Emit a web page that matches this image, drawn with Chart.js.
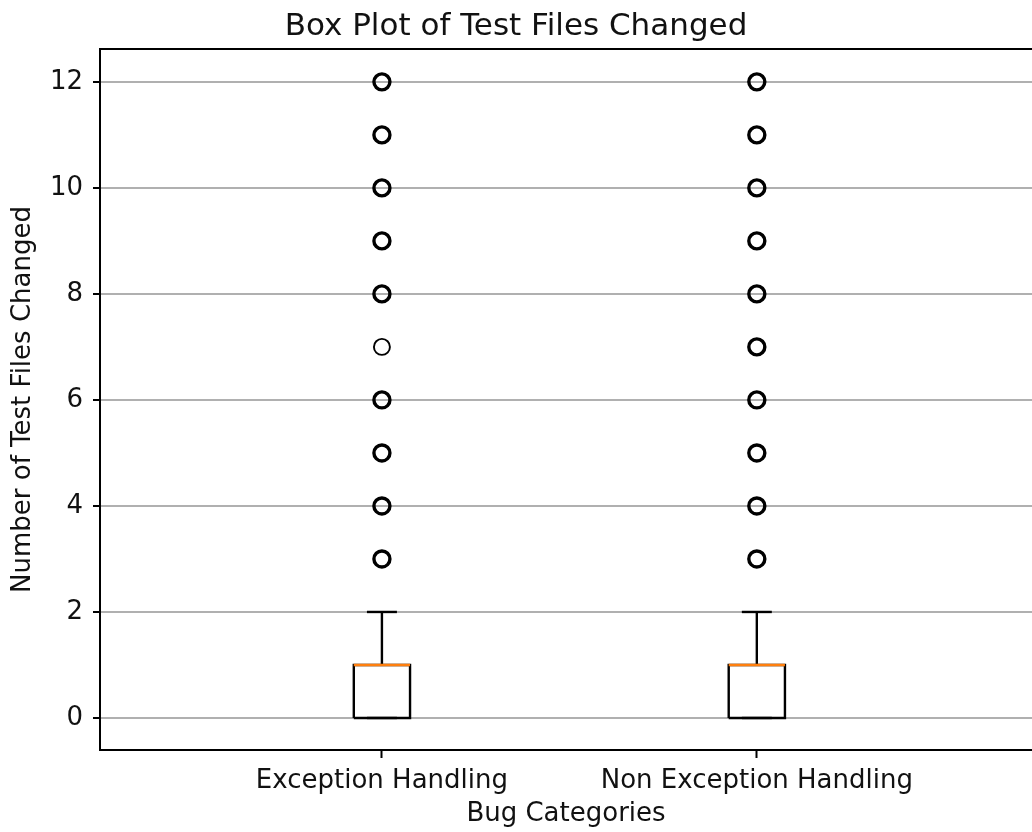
<!DOCTYPE html>
<html>
<head>
<meta charset="utf-8">
<script src="https://cdn.jsdelivr.net/npm/chart.js@4"></script>
<style>
  html, body { margin: 0; padding: 0; background: #fff; }
  #wrap { width: 1032px; height: 832px; }
</style>
</head>
<body>
<div id="wrap"><canvas id="c"></canvas></div>
<script>
// Bug categories along the x axis (box positions 1, 2, ...)
const categories = ['Exception Handling', 'Non Exception Handling'];

// Box statistics per category
const whiskerLow  = [0, 0];
const q1          = [0, 0];
const median      = [1, 1];
const q3          = [1, 1];
const whiskerHigh = [2, 2];

// Outliers per category, with how many observations sit on each value
const exceptionOutliers      = [3, 4, 5, 6, 7, 8, 9, 10, 11, 12];
const exceptionOutlierCounts = [2, 2, 2, 2, 1, 2, 2, 2, 2, 2];
const nonExceptionOutliers      = [3, 4, 5, 6, 7, 8, 9, 10, 11, 12];
const nonExceptionOutlierCounts = [2, 2, 2, 2, 2, 2, 2, 2, 2, 2];

const yTicks = [0, 2, 4, 6, 8, 10, 12];

const outliers = [exceptionOutliers, nonExceptionOutliers];
const outlierCounts = [exceptionOutlierCounts, nonExceptionOutlierCounts];

const FONT = '"DejaVu Sans", "Liberation Sans", sans-serif';
const BOX_HALF = 0.075;   // half box width in x units
const CAP_HALF = 0.04;    // half whisker-cap width in x units
const LINE_W = 2.4;

const datasets = [];
categories.forEach((name, i) => {
  const x = i + 1;
  // lower "order" is painted on top
  const line = (pts, color, order) => ({
    type: 'line',
    data: pts,
    order: order,
    borderColor: color,
    borderWidth: LINE_W,
    pointRadius: 0,
    fill: false,
    tension: 0,
    borderCapStyle: 'butt',
    borderJoinStyle: 'miter',
  });
  // box Q1..Q3
  datasets.push(line([
    {x: x - BOX_HALF, y: q1[i]}, {x: x + BOX_HALF, y: q1[i]},
    {x: x + BOX_HALF, y: q3[i]}, {x: x - BOX_HALF, y: q3[i]},
    {x: x - BOX_HALF, y: q1[i]}
  ], '#000', 3));
  // upper whisker and cap
  datasets.push(line([{x: x, y: q3[i]}, {x: x, y: whiskerHigh[i]}], '#000', 3));
  datasets.push(line([{x: x - CAP_HALF, y: whiskerHigh[i]}, {x: x + CAP_HALF, y: whiskerHigh[i]}], '#000', 3));
  // lower whisker and cap
  datasets.push(line([{x: x, y: q1[i]}, {x: x, y: whiskerLow[i]}], '#000', 3));
  datasets.push(line([{x: x - CAP_HALF, y: whiskerLow[i]}, {x: x + CAP_HALF, y: whiskerLow[i]}], '#000', 3));
  // median
  datasets.push(line([{x: x - BOX_HALF, y: median[i]}, {x: x + BOX_HALF, y: median[i]}], '#ff7f0e', 1));
  // fliers
  datasets.push({
    type: 'scatter',
    order: 2,
    data: outliers[i].map(v => ({x: x, y: v})),
    pointStyle: 'circle',
    pointRadius: 8,
    pointBackgroundColor: 'rgba(0,0,0,0)',
    pointBorderColor: '#000',
    pointBorderWidth: outlierCounts[i].map(n => n > 1 ? 3.4 : 1.9),
    showLine: false,
  });
});

// Axes spines: left, top and bottom (the right one lies past the canvas edge)
const framePlugin = {
  id: 'frame',
  afterDatasetsDraw(chart) {
    const {ctx, chartArea: a} = chart;
    ctx.save();
    ctx.strokeStyle = '#000';
    ctx.lineWidth = 2;
    ctx.beginPath();
    ctx.moveTo(chart.width + 2, a.top);
    ctx.lineTo(a.left, a.top);
    ctx.lineTo(a.left, a.bottom);
    ctx.lineTo(chart.width + 2, a.bottom);
    ctx.stroke();
    ctx.restore();
  }
};

new Chart(document.getElementById('c'), {
  type: 'scatter',
  data: { datasets },
  plugins: [framePlugin],
  options: {
    responsive: true,
    maintainAspectRatio: false,
    animation: false,
    layout: { padding: 0, autoPadding: false },
    plugins: {
      legend: { display: false },
      tooltip: { enabled: false },
      title: {
        display: true,
        text: 'Box Plot of Test Files Changed',
        color: '#111',
        font: { family: FONT, size: 31, weight: 'normal' },
        padding: { top: 8, bottom: 3.8 },
      },
    },
    scales: {
      x: {
        type: 'linear',
        min: 0.248,
        max: 2.734,
        afterBuildTicks(scale) {
          scale.ticks = categories.map((_, i) => ({ value: i + 1 }));
        },
        afterFit(scale) {
          scale.height = 82;
          scale.paddingLeft = 0;
          scale.paddingRight = 0;
        },
        ticks: {
          color: '#111',
          font: { family: FONT, size: 26 },
          padding: 8,
          maxRotation: 0,
          autoSkip: false,
          callback: (v) => categories[Math.round(v) - 1] || '',
        },
        grid: {
          display: true,
          drawOnChartArea: false,
          tickLength: 8,
          tickColor: '#000',
          tickWidth: 2,
        },
        border: { display: false },
        title: {
          display: true,
          text: 'Bug Categories',
          color: '#111',
          font: { family: FONT, size: 26 },
          padding: { top: 0, bottom: 2 },
        },
      },
      y: {
        type: 'linear',
        min: -0.604,
        max: 12.62,
        afterBuildTicks(scale) {
          scale.ticks = yTicks.map(v => ({ value: v }));
        },
        afterFit(scale) { scale.width = 100; },
        ticks: {
          color: '#111',
          font: { family: FONT, size: 26 },
          padding: 10,
        },
        grid: {
          color: '#b0b0b0',
          lineWidth: 2,
          tickLength: 7,
          tickColor: '#000',
          tickWidth: 2,
        },
        border: { display: false },
        title: {
          display: true,
          text: 'Number of Test Files Changed',
          color: '#111',
          font: { family: FONT, size: 26 },
          padding: { top: 8, bottom: 0 },
        },
      },
    },
  },
});
</script>
</body>
</html>
